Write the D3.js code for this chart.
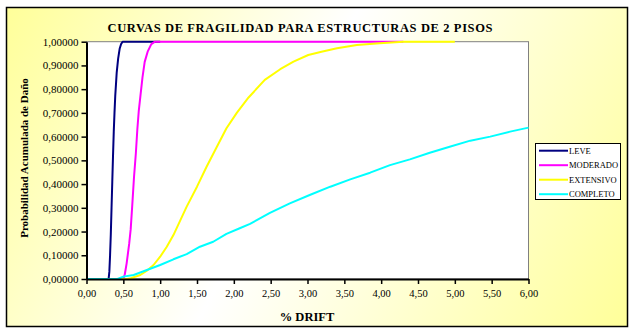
<!DOCTYPE html>
<html><head><meta charset="utf-8">
<script src="https://cdn.jsdelivr.net/npm/d3@7"></script>
<style>
html,body{margin:0;padding:0;background:#fff;}
svg{display:block;}
text{font-family:"Liberation Serif","Times New Roman",serif;}
</style></head>
<body>
<svg id="chart" width="633" height="331"></svg>
<script>
// ---- data ----
const seriesNames = ["LEVE", "MODERADO", "EXTENSIVO", "COMPLETO"];
const seriesColors = ["#000080", "#ff00ff", "#ffff00", "#00ffff"];

const leveX = [0, 0.30, 0.31, 0.32, 0.33, 0.34, 0.35, 0.36, 0.37, 0.38, 0.39, 0.40, 0.41, 0.42, 0.43, 0.44, 0.45, 0.47, 0.49, 0.60, 0.80, 1.00];
const leveY = [0, 0, 0.03, 0.10, 0.19, 0.30, 0.41, 0.52, 0.62, 0.70, 0.77, 0.82, 0.87, 0.90, 0.93, 0.95, 0.97, 0.99, 1.0, 1.0, 1.0, 1.0];

const moderadoX = [0, 0.50, 0.52, 0.545, 0.58, 0.60, 0.62, 0.645, 0.67, 0.69, 0.71, 0.735, 0.76, 0.79, 0.83, 0.88, 0.93, 1.5, 2.5, 3.5, 4.3];
const moderadoY = [0, 0, 0.02, 0.066, 0.15, 0.21, 0.305, 0.43, 0.53, 0.63, 0.71, 0.78, 0.85, 0.915, 0.958, 0.99, 1.0, 1.0, 1.0, 1.0, 1.0];

const extensivoX = [0, 0.55, 0.60, 0.73, 0.82, 0.91, 1.00, 1.09, 1.18, 1.27, 1.36, 1.50, 1.63, 1.77, 1.90, 2.04, 2.20, 2.42, 2.63, 2.81, 3.01, 3.19, 3.40, 3.67, 3.98, 4.30, 5.00];
const extensivoY = [0, 0, 0.003, 0.017, 0.035, 0.059, 0.094, 0.136, 0.185, 0.245, 0.305, 0.389, 0.473, 0.557, 0.635, 0.70, 0.765, 0.839, 0.884, 0.916, 0.944, 0.958, 0.972, 0.986, 0.993, 1.0, 1.0];

const completoX = [0, 0.42, 0.50, 0.64, 0.82, 1.00, 1.18, 1.36, 1.54, 1.72, 1.90, 2.08, 2.22, 2.49, 2.76, 3.03, 3.31, 3.58, 3.85, 4.12, 4.39, 4.66, 4.93, 5.21, 5.48, 5.75, 6.00];
const completoY = [0, 0, 0.01, 0.017, 0.038, 0.059, 0.083, 0.105, 0.136, 0.157, 0.19, 0.214, 0.232, 0.279, 0.319, 0.354, 0.389, 0.42, 0.448, 0.48, 0.504, 0.532, 0.557, 0.583, 0.60, 0.621, 0.638];

const xTicks = [0, 0.5, 1, 1.5, 2, 2.5, 3, 3.5, 4, 4.5, 5, 5.5, 6];
const yTicks = [0, 0.1, 0.2, 0.3, 0.4, 0.5, 0.6, 0.7, 0.8, 0.9, 1.0];

const titleText = "CURVAS DE FRAGILIDAD PARA ESTRUCTURAS DE 2 PISOS";
const xTitle = "% DRIFT";
const yTitle = "Probabilidad Acumulada de Daño";

// ---- build ----
const series = [
  {name: seriesNames[0], color: seriesColors[0], xs: leveX, ys: leveY},
  {name: seriesNames[1], color: seriesColors[1], xs: moderadoX, ys: moderadoY},
  {name: seriesNames[2], color: seriesColors[2], xs: extensivoX, ys: extensivoY},
  {name: seriesNames[3], color: seriesColors[3], xs: completoX, ys: completoY}
];

const svg = d3.select("#chart");
const loc = d3.formatLocale({decimal: ",", thousands: ".", grouping: [3], currency: ["", ""]});
const fx = loc.format(".2f"), fy = loc.format(".5f");

const plot = {left: 86.5, right: 528.5, top: 41.7, bottom: 279};
const x = d3.scaleLinear().domain([0, 6]).range([plot.left, plot.right]);
const y = d3.scaleLinear().domain([0, 1]).range([plot.bottom, plot.top]);

// background gradient
const defs = svg.append("defs");
const grad = defs.append("linearGradient").attr("id", "bg")
  .attr("gradientUnits", "userSpaceOnUse")
  .attr("x1", 6).attr("y1", 7).attr("x2", 628).attr("y2", 327);
grad.append("stop").attr("offset", "0%").attr("stop-color", "#ffff99");
grad.append("stop").attr("offset", "45%").attr("stop-color", "#ffffff");
grad.append("stop").attr("offset", "100%").attr("stop-color", "#ffff99");

svg.append("rect").attr("x", 6.5).attr("y", 7.5).attr("width", 621).attr("height", 319)
  .attr("fill", "url(#bg)").attr("stroke", "#000").attr("stroke-width", 1.5);

// plot area
svg.append("rect").attr("x", plot.left).attr("y", plot.top)
  .attr("width", plot.right - plot.left).attr("height", plot.bottom - plot.top)
  .attr("fill", "#fff").attr("stroke", "#808080").attr("stroke-width", 1);

// lines
const line = d3.line().x(d => x(d[0])).y(d => y(d[1]));
series.forEach(s => {
  const pts = s.xs.map((v, i) => [v, s.ys[i]]);
  svg.append("path").datum(pts).attr("d", line)
    .attr("fill", "none").attr("stroke", s.color).attr("stroke-width", 2)
    .attr("stroke-linejoin", "round");
});

// axes
const yAxis = svg.append("g").attr("transform", `translate(${plot.left},0)`)
  .call(d3.axisLeft(y).tickValues(yTicks).tickFormat(fy).tickSize(5).tickSizeOuter(0).tickPadding(3));
const xAxis = svg.append("g").attr("transform", `translate(0,${plot.bottom})`)
  .call(d3.axisBottom(x).tickValues(xTicks).tickFormat(fx).tickSize(5).tickSizeOuter(0).tickPadding(6));
[yAxis, xAxis].forEach(g => {
  g.select(".domain").attr("stroke", "#000").attr("stroke-width", 2);
  g.selectAll(".tick line").attr("stroke", "#000").attr("stroke-width", 1.5);
  g.selectAll("text").attr("font-family", "'Liberation Serif', serif").attr("fill", "#000");
});
yAxis.selectAll("text").attr("font-size", 11);
xAxis.selectAll("text").attr("font-size", 10.5);

// titles
svg.append("text").attr("x", 300).attr("y", 32).attr("text-anchor", "middle")
  .attr("font-size", 12.5).attr("font-weight", "bold")
  .attr("textLength", 385).attr("lengthAdjust", "spacing")
  .text(titleText);
svg.append("text").attr("x", 307).attr("y", 321).attr("text-anchor", "middle")
  .attr("font-size", 12.5).attr("font-weight", "bold").text(xTitle);
svg.append("text").attr("transform", "translate(28,158) rotate(-90)").attr("text-anchor", "middle")
  .attr("font-size", 11).attr("font-weight", "bold").text(yTitle);

// legend
const lg = svg.append("g");
lg.append("rect").attr("x", 535.5).attr("y", 143.5).attr("width", 85).attr("height", 56)
  .attr("fill", "#fff").attr("stroke", "#000").attr("stroke-width", 1);
series.forEach((s, i) => {
  const yy = 150.7 + i * 14.5;
  lg.append("line").attr("x1", 539).attr("x2", 568).attr("y1", yy).attr("y2", yy)
    .attr("stroke", s.color).attr("stroke-width", 2);
  lg.append("text").attr("x", 569).attr("y", yy + 3).attr("font-size", 8.5).attr("fill", "#000").text(s.name);
});
</script>
</body></html>
